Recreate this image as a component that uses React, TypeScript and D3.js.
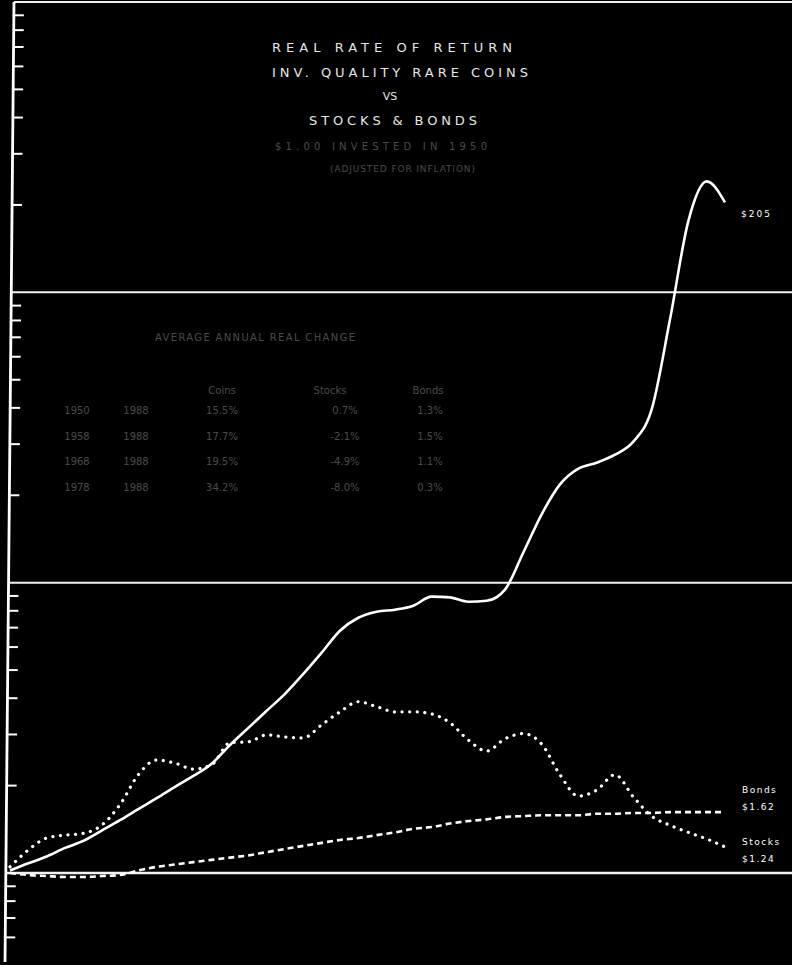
import React, { useEffect } from "react";
import * as d3 from "d3";

const years = [1950,1951,1952,1953,1954,1955,1956,1957,1958,1959,1960,1961,1962,1963,1964,1965,1966,1967,1968,1969,1970,1971,1972,1973,1974,1975,1976,1977,1978,1979,1980,1981,1982,1983,1984,1985,1986,1987,1988,1989];
const coins = [1.02,1.08,1.14,1.22,1.29,1.40,1.52,1.66,1.81,1.98,2.16,2.38,2.76,3.16,3.62,4.14,4.85,5.74,6.83,7.57,7.94,8.07,8.33,8.95,8.9,8.60,8.66,9.46,12.7,17.2,21.8,24.7,25.9,27.6,30.6,39.5,80.7,176,241,204];
const stocks = [1.05,1.20,1.32,1.35,1.37,1.46,1.72,2.18,2.45,2.39,2.28,2.36,2.81,2.83,2.99,2.94,2.92,3.24,3.59,3.89,3.74,3.59,3.59,3.53,3.29,2.87,2.63,2.90,3.02,2.78,2.18,1.84,1.93,2.18,1.83,1.57,1.46,1.38,1.31,1.23];
const bonds = [1.00,0.984,0.976,0.969,0.969,0.976,0.984,1.02,1.05,1.07,1.09,1.11,1.13,1.15,1.18,1.21,1.24,1.27,1.30,1.32,1.35,1.38,1.42,1.44,1.48,1.51,1.53,1.56,1.57,1.58,1.58,1.58,1.60,1.60,1.61,1.61,1.62,1.62,1.62,1.62];

const decadeLines = [1, 10, 100, 1000];
const minorTicks = [0.6,0.7,0.8,0.9,2,3,4,5,6,7,8,9,20,30,40,50,60,70,80,90,200,300,400,500,600,700,800,900];

const titleLines = ["REAL RATE OF RETURN", "INV. QUALITY RARE COINS", "VS", "STOCKS & BONDS"];
const subtitleLines = ["$1.00 INVESTED IN 1950", "(ADJUSTED FOR INFLATION)"];
const tableTitle = "AVERAGE  ANNUAL  REAL  CHANGE";
const tableHeaders = ["Coins", "Stocks", "Bonds"];
const tableStart = ["1950", "1958", "1968", "1978"];
const tableEnd = ["1988", "1988", "1988", "1988"];
const tableCoins = ["15.5%", "17.7%", "19.5%", "34.2%"];
const tableStocks = ["0.7%", "-2.1%", "-4.9%", "-8.0%"];
const tableBonds = ["1.3%", "1.5%", "1.1%", "0.3%"];

const endLabels = [
  { name: "", value: "$205" },
  { name: "Bonds", value: "$1.62" },
  { name: "Stocks", value: "$1.24" },
];

const W = 792, H = 965;

export default function App() {
  useEffect(() => {
    document.body.style.margin = "0";
    document.body.style.background = "#000";
  }, []);

  const x = d3.scaleLinear().domain([1950, 1989]).range([10, 725]);
  const y = d3.scaleLog().domain([1, 1000]).range([873, 2]);
  const axisX = (py: number) => 14 - 9 * (py / 962);

  const line = d3.line<number>()
    .x((_, i) => x(years[i]))
    .y((d) => y(d))
    .curve(d3.curveMonotoneX);

  const font = "'DejaVu Sans', sans-serif";
  const faint = { fill: "#cfcfcf", opacity: 0.35 } as const;

  return (
    <div style={{ position: "absolute", left: 0, top: 0, width: W, height: H, background: "#000" }}>
      <svg width={W} height={H} style={{ display: "block" }}>
        <rect x={0} y={0} width={W} height={H} fill="#000" />
        {/* axis */}
        <line x1={axisX(2)} y1={2} x2={axisX(962)} y2={962} stroke="#fff" strokeWidth={2.8} />
        {decadeLines.map((v) => (
          <line key={"d" + v} x1={axisX(y(v))} x2={W} y1={y(v)} y2={y(v)} stroke="#f2f2f2" strokeWidth={v === 1 ? 2.6 : 2} />
        ))}
        {minorTicks.map((v) => (
          <line key={"t" + v} x1={axisX(y(v))} x2={axisX(y(v)) + 10} y1={y(v)} y2={y(v)} stroke="#fff" strokeWidth={2} />
        ))}

        {/* series */}
        <path d={line(bonds) || ""} fill="none" stroke="#fff" strokeWidth={2.6} strokeDasharray="6 4" />
        <path d={line(stocks) || ""} fill="none" stroke="#fff" strokeWidth={3.2} strokeDasharray="0.1 7.5" strokeLinecap="round" />
        <path d={line(coins) || ""} fill="none" stroke="#fff" strokeWidth={2.6} />

        {/* title */}
        <g fontFamily={font} fill="#e6e6e6" fontSize={13}>
          <text x={272} y={52} textLength={240} lengthAdjust="spacing">{titleLines[0]}</text>
          <text x={272} y={77} textLength={256} lengthAdjust="spacing">{titleLines[1]}</text>
          <text x={390} y={100} textAnchor="middle" fontSize={11}>{titleLines[2]}</text>
          <text x={309} y={125} textLength={168} lengthAdjust="spacing">{titleLines[3]}</text>
          <text x={275} y={150} textLength={212} lengthAdjust="spacing" fontSize={10} {...faint}>{subtitleLines[0]}</text>
          <text x={330} y={172} textLength={145} lengthAdjust="spacing" fontSize={9} {...faint}>{subtitleLines[1]}</text>
        </g>

        {/* table */}
        <g fontFamily={font} fontSize={10} {...faint}>
          <text x={155} y={341} textLength={200} lengthAdjust="spacing">{tableTitle}</text>
          {tableHeaders.map((h, i) => (
            <text key={h} x={[222, 330, 428][i]} y={394} textAnchor="middle">{h}</text>
          ))}
          {tableStart.map((s, i) => (
            <g key={s}>
              <text x={77} y={414 + i * 25.5} textAnchor="middle">{s}</text>
              <text x={136} y={414 + i * 25.5} textAnchor="middle">{tableEnd[i]}</text>
              <text x={222} y={414 + i * 25.5} textAnchor="middle">{tableCoins[i]}</text>
              <text x={345} y={414 + i * 25.5} textAnchor="middle">{tableStocks[i]}</text>
              <text x={430} y={414 + i * 25.5} textAnchor="middle">{tableBonds[i]}</text>
            </g>
          ))}
        </g>

        {/* end labels */}
        <g fontFamily={font} fill="#fff" fontSize={9}>
          <text x={741} y={217} letterSpacing={2}>{endLabels[0].value}</text>
          <text x={742} y={793} letterSpacing={1.5}>{endLabels[1].name}</text>
          <text x={742} y={810} letterSpacing={1.5}>{endLabels[1].value}</text>
          <text x={742} y={845} letterSpacing={1.5}>{endLabels[2].name}</text>
          <text x={742} y={862} letterSpacing={1.5}>{endLabels[2].value}</text>
        </g>
      </svg>
    </div>
  );
}
